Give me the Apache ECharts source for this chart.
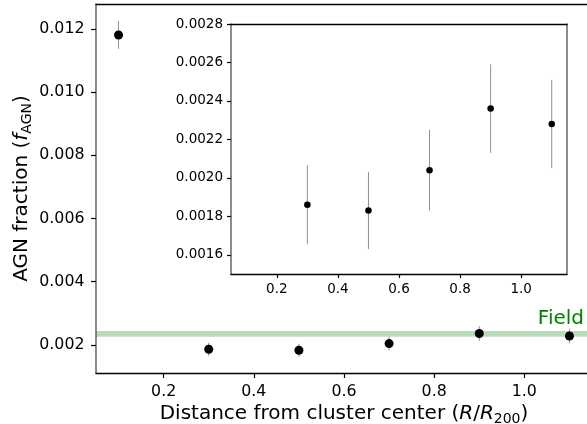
<!DOCTYPE html>
<html>
<head>
<meta charset="utf-8">
<script src="https://cdn.jsdelivr.net/npm/echarts@6/dist/echarts.min.js"></script>
<style>
html,body{margin:0;padding:0;background:#fff;}
#chart{width:587px;height:424px;}
</style>
</head>
<body>
<div id="chart"></div>
<script>
// ---- data ----
const radius = [0.1, 0.3, 0.5, 0.7, 0.9, 1.1];
const fAGN = [0.01181, 0.00186, 0.00183, 0.00204, 0.00236, 0.00228];
const fErr = [0.00044, 0.000205, 0.0002, 0.00021, 0.00023, 0.00023];
const insetIdx = [1, 2, 3, 4, 5];
const fieldFrac = 0.00235;
const fieldErr = 0.00009;
const fieldLabel = 'Field';
const mainYTicks = [0.002, 0.004, 0.006, 0.008, 0.010, 0.012];
const mainXTicks = [0.2, 0.4, 0.6, 0.8, 1.0];
const insetYTicks = [0.0016, 0.0018, 0.0020, 0.0022, 0.0024, 0.0026, 0.0028];
const insetXTicks = [0.2, 0.4, 0.6, 0.8, 1.0];
const xRange = [0.05, 1.15];
const mainYRange = [0.00111, 0.01279];
const insetYRange = [0.0015, 0.0028];

const FONT = 'DejaVu Sans';
const mainPts = radius.map((r, i) => [r, fAGN[i], fErr[i]]);
const insetPts = insetIdx.map(i => [radius[i], fAGN[i], fErr[i]]);

function errRender(params, api) {
  const x = api.value(0), y = api.value(1), e = api.value(2);
  const p1 = api.coord([x, y - e]);
  const p2 = api.coord([x, y + e]);
  return {
    type: 'line',
    shape: {x1: p1[0], y1: p1[1], x2: p2[0], y2: p2[1]},
    style: {stroke: '#8f8f8f', lineWidth: 1}
  };
}

const grayLine = {show: true, lineStyle: {color: '#6f6f6f', width: 1.6}};
const blackLine = {show: true, lineStyle: {color: '#000', width: 1.4}};

function xAxisMain(gridIndex, ticks, fs, margin, tickLen, opts) {
  return Object.assign({
    type: 'value', gridIndex, min: xRange[0], max: xRange[1],
    splitLine: {show: false},
    axisLine: blackLine,
    axisTick: {show: true, customValues: ticks, length: tickLen, lineStyle: {color: '#000', width: 1.2}},
    axisLabel: {show: true, customValues: ticks, color: '#000', fontFamily: FONT, fontSize: fs, margin,
      formatter: v => v.toFixed(1)}
  }, opts || {});
}

const richName = {
  n: {fontFamily: FONT, fontSize: 20, color: '#000', lineHeight: 24, verticalAlign: 'middle'},
  i: {fontFamily: FONT, fontSize: 20, color: '#000', fontStyle: 'italic', lineHeight: 24, verticalAlign: 'middle'},
  s: {fontFamily: FONT, fontSize: 14, color: '#000', lineHeight: 14, verticalAlign: 'bottom'}
};

const option = {
  backgroundColor: '#fff',
  animation: false,
  grid: [
    {left: 96, top: 4, right: -5, bottom: 51, show: true, backgroundColor: '#fff', borderWidth: 0, z: 0,
      containLabel: false, outerBoundsMode: 'none'},
    {left: 231, top: 24, width: 336, height: 250, show: true, backgroundColor: '#fff', borderWidth: 0, z: 5,
      containLabel: false, outerBoundsMode: 'none'}
  ],
  xAxis: [
    xAxisMain(0, mainXTicks, 15.8, 11, 5, {
      name: '{n|Distance from cluster center (}{i|R}{n|/}{i|R}{s|200}{n|)}',
      nameLocation: 'middle', nameGap: 29, nameMoveOverlap: false,
      nameTextStyle: {rich: richName}
    }),
    {type: 'value', gridIndex: 0, position: 'top', min: xRange[0], max: xRange[1],
      splitLine: {show: false}, axisLine: blackLine, axisTick: {show: false}, axisLabel: {show: false}},
    xAxisMain(1, insetXTicks, 13.5, 8, 4, {z: 6}),
    {type: 'value', gridIndex: 1, position: 'top', min: xRange[0], max: xRange[1], z: 6,
      splitLine: {show: false}, axisLine: blackLine, axisTick: {show: false}, axisLabel: {show: false}}
  ],
  yAxis: [
    {type: 'value', gridIndex: 0, min: mainYRange[0], max: mainYRange[1],
      splitLine: {show: false}, axisLine: grayLine,
      axisTick: {show: true, customValues: mainYTicks, length: 5, lineStyle: {color: '#000', width: 1.2}},
      axisLabel: {customValues: mainYTicks, color: '#000', fontFamily: FONT, fontSize: 15.8, margin: 11.5,
        formatter: v => v.toFixed(3)},
      name: '{n|AGN fraction (}{i|f}{s|AGN}{n|)}',
      nameLocation: 'middle', nameGap: 62, nameRotate: 90, nameMoveOverlap: false,
      nameTextStyle: {rich: richName}
    },
    {type: 'value', gridIndex: 1, min: insetYRange[0], max: insetYRange[1], z: 6,
      splitLine: {show: false}, axisLine: grayLine,
      axisTick: {show: true, customValues: insetYTicks, length: 4, lineStyle: {color: '#000', width: 1.2}},
      axisLabel: {customValues: insetYTicks, color: '#000', fontFamily: FONT, fontSize: 13.5, margin: 8,
        formatter: v => v.toFixed(4)}
    },
    {type: 'value', gridIndex: 1, position: 'right', min: insetYRange[0], max: insetYRange[1], z: 6,
      splitLine: {show: false}, axisLine: grayLine, axisTick: {show: false}, axisLabel: {show: false}}
  ],
  series: [
    {
      type: 'line', xAxisIndex: 0, yAxisIndex: 0, data: [], silent: true,
      markArea: {
        silent: true,
        itemStyle: {color: 'rgba(0,128,0,0.28)'},
        label: {show: true, position: ['100%', 0], align: 'right', verticalAlign: 'bottom',
          offset: [-8, -2], formatter: fieldLabel, color: '#008000',
          fontFamily: FONT, fontSize: 20},
        data: [[{yAxis: fieldFrac - fieldErr}, {yAxis: fieldFrac + fieldErr}]]
      }
    },
    {type: 'custom', xAxisIndex: 0, yAxisIndex: 0, renderItem: errRender, data: mainPts, z: 3},
    {type: 'scatter', xAxisIndex: 0, yAxisIndex: 0, data: mainPts, symbolSize: 9,
      itemStyle: {color: '#000', opacity: 1}, z: 4},
    {type: 'custom', xAxisIndex: 2, yAxisIndex: 1, renderItem: errRender, data: insetPts, z: 7},
    {type: 'scatter', xAxisIndex: 2, yAxisIndex: 1, data: insetPts, symbolSize: 6.5,
      itemStyle: {color: '#000', opacity: 1}, z: 8}
  ]
};

const chart = echarts.init(document.getElementById('chart'), null, {renderer: 'canvas'});
chart.setOption(option);
</script>
</body>
</html>
